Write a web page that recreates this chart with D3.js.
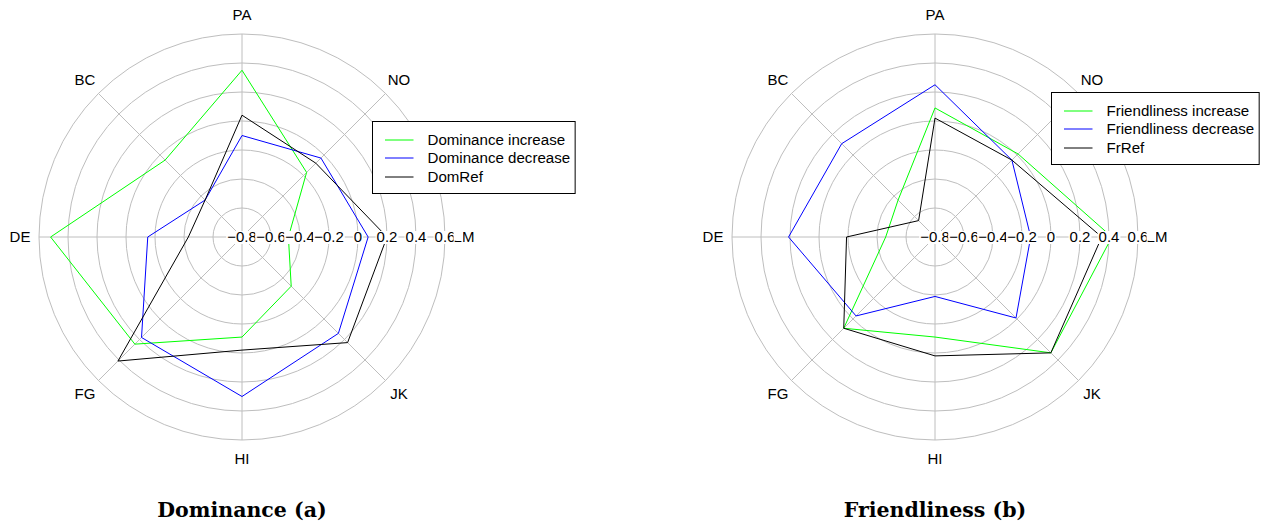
<!DOCTYPE html>
<html>
<head>
<meta charset="utf-8">
<script src="https://cdn.jsdelivr.net/npm/d3@7"></script>
<style>
  body { margin: 0; background: #fff; }
  svg { display: block; }
</style>
</head>
<body>
<div id="chart"></div>
<script>
const w = 1270;
const h = 529;

// octant labels, in drawing order (PA at the top, going anti-clockwise)
const octants = ["PA", "BC", "DE", "FG", "HI", "JK", "LM", "NO"];
const radialTicks = [-0.8, -0.6, -0.4, -0.2, 0, 0.2, 0.4, 0.6];
const ringValues = [-0.6, -0.4, -0.2, 0, 0.2, 0.4, 0.6];

// values per octant, same order as octants
const domIncrease = [0.35, -0.05, 0.52, 0.245, -0.11, -0.32, -0.48, -0.17];
const domDecrease = [-0.10, -0.44, -0.15, 0.18, 0.30, 0.14, 0.07, -0.03];
const domRef      = [0.04, -0.44, -0.43, 0.41, -0.02, 0.23, 0.20, -0.08];

const frIncrease = [0.09, -0.44, -0.46, 0.09, -0.11, 0.33, 0.42, 0.01];
const frDecrease = [0.25, 0.11, 0.21, -0.03, -0.39, -0.01, -0.14, -0.05];
const frRef      = [0.02, -0.64, -0.19, 0.09, 0.02, 0.33, 0.35, -0.05];

const domNames = ["Dominance increase", "Dominance decrease", "DomRef"];
const frNames = ["Friendliness increase", "Friendliness decrease", "FrRef"];
const colors = ["#00ff00", "#0000ff", "#000000"];

const font = "Liberation Sans, Arial, Helvetica, sans-serif";

const svg = d3.select("#chart")
  .append("svg")
  .attr("width", w)
  .attr("height", h);

svg.append("rect").attr("width", w).attr("height", h).attr("fill", "#fff");

const r = d3.scaleLinear().domain([-0.8, 0.6]).range([0, 203]);
const labelR = 222;
const angle = i => -i * Math.PI / 4; // lineRadial: 0 = up, clockwise

function drawRadar(cx, cy, series, names, legendPos, title) {
  const g = svg.append("g").attr("transform", `translate(${cx},${cy})`);

  // rings
  g.selectAll("circle.ring")
    .data(ringValues)
    .enter()
    .append("circle")
    .attr("class", "ring")
    .attr("r", d => r(d))
    .attr("fill", "none")
    .attr("stroke", "#bebebe")
    .attr("stroke-width", 1);

  // spokes
  g.selectAll("line.spoke")
    .data(octants)
    .enter()
    .append("line")
    .attr("x1", 0).attr("y1", 0)
    .attr("x2", (d, i) => Math.sin(angle(i)) * r(0.6))
    .attr("y2", (d, i) => -Math.cos(angle(i)) * r(0.6))
    .attr("stroke", "#bebebe")
    .attr("stroke-width", 1);

  // polygons
  const line = d3.lineRadial()
    .angle((d, i) => angle(i))
    .radius(d => r(d))
    .curve(d3.curveLinearClosed);

  series.forEach((s, k) => {
    g.append("path")
      .attr("d", line(s))
      .attr("fill", "none")
      .attr("stroke", colors[k])
      .attr("stroke-width", 1);
  });

  // radial tick labels with white boxes
  const ticks = g.selectAll("g.tick")
    .data(radialTicks)
    .enter()
    .append("g")
    .attr("transform", d => `translate(${r(d)},0)`);
  const tickText = ticks.append("text")
    .attr("text-anchor", "middle")
    .attr("dy", "0.36em")
    .attr("font-family", font)
    .attr("font-size", 15)
    .text(d => d === 0 ? "0" : (d < 0 ? "\u2212" : "") + Math.abs(d).toFixed(1));
  tickText.each(function() {
    const tw = this.getComputedTextLength();
    d3.select(this.parentNode).insert("rect", "text")
      .attr("x", -tw / 2 - 1)
      .attr("y", -6)
      .attr("width", tw + 2)
      .attr("height", 13)
      .attr("fill", "#fff");
  });

  // octant labels
  g.selectAll("text.oct")
    .data(octants)
    .enter()
    .append("text")
    .attr("class", "oct")
    .attr("x", (d, i) => Math.sin(angle(i)) * labelR)
    .attr("y", (d, i) => -Math.cos(angle(i)) * labelR)
    .attr("text-anchor", "middle")
    .attr("dy", "0.36em")
    .attr("font-family", font)
    .attr("font-size", 15)
    .text(d => d);

  // the L of "LM" is mostly hidden behind a blank label box
  g.append("rect")
    .attr("x", labelR - 10.5)
    .attr("y", -7)
    .attr("width", 9.5)
    .attr("height", 10.8)
    .attr("fill", "#fff");

  // legend
  const lg = svg.append("g").attr("transform", `translate(${legendPos[0]},${legendPos[1]})`);
  const box = lg.append("rect")
    .attr("height", 72)
    .attr("fill", "#fff")
    .attr("stroke", "#000")
    .attr("stroke-width", 1);
  let maxW = 0;
  names.forEach((n, k) => {
    const y = Math.round(18 + k * 18.3) + 0.5;
    lg.append("line")
      .attr("x1", 12.5).attr("x2", 41)
      .attr("y1", y).attr("y2", y)
      .attr("stroke", colors[k])
      .attr("stroke-width", 1);
    const t = lg.append("text")
      .attr("x", 55)
      .attr("y", y)
      .attr("dy", "0.36em")
      .attr("font-family", font)
      .attr("font-size", 15.1)
      .text(n);
    maxW = Math.max(maxW, t.node().getComputedTextLength());
  });
  box.attr("width", 55 + maxW + 5);

  // caption
  svg.append("text")
    .attr("x", cx)
    .attr("y", 517)
    .attr("text-anchor", "middle")
    .attr("font-family", "DejaVu Serif, Liberation Serif, serif")
    .attr("font-weight", "bold")
    .attr("font-size", 20.5)
    .text(title);
}

drawRadar(242, 237, [domIncrease, domDecrease, domRef], domNames, [372.5, 121.5], "Dominance (a)");
drawRadar(935, 237, [frIncrease, frDecrease, frRef], frNames, [1051.5, 92.5], "Friendliness (b)");
</script>
</body>
</html>
